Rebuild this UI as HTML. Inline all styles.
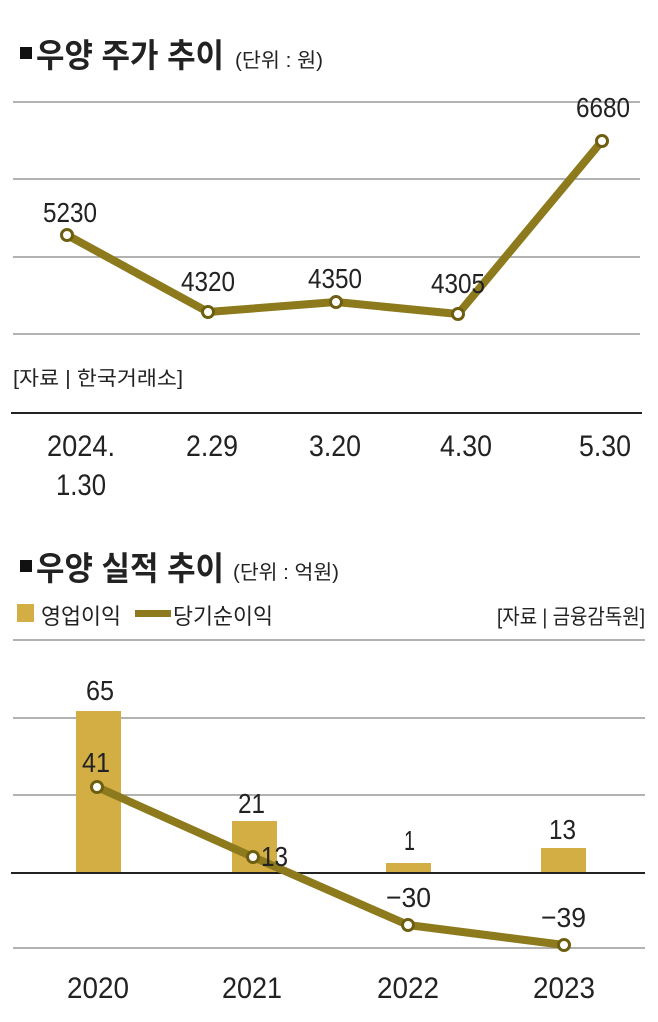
<!DOCTYPE html>
<html><head><meta charset="utf-8"><style>
body{margin:0;background:#fff}
svg text{font-family:"Liberation Sans","Noto Sans CJK KR",sans-serif;fill:#222}
</style></head><body>
<svg width="658" height="1017" viewBox="0 0 658 1017" xmlns="http://www.w3.org/2000/svg">
<rect x="20" y="47" width="12" height="12" fill="#111"/>
<text x="36" y="67" font-size="33" font-weight="bold" textLength="188" lengthAdjust="spacingAndGlyphs">우양 주가 추이</text>
<text x="235" y="67" font-size="20" textLength="88" lengthAdjust="spacingAndGlyphs">(단위 : 원)</text>
<g stroke="#999" stroke-width="1.5">
<line x1="13" y1="102" x2="640" y2="102"/><line x1="13" y1="179" x2="640" y2="179"/>
<line x1="13" y1="257" x2="640" y2="257"/><line x1="13" y1="334" x2="640" y2="334"/>
</g>
<line x1="11" y1="413" x2="642" y2="413" stroke="#222" stroke-width="2"/>
<polyline points="67,235 208,312 336,302 458,314 602,141" fill="none" stroke="#8c7a1c" stroke-width="8" stroke-linejoin="round"/>
<g fill="#fff" stroke="#6e5f10" stroke-width="3">
<circle cx="67" cy="235" r="5.5"/><circle cx="208" cy="312" r="5.5"/><circle cx="336" cy="302" r="5.5"/><circle cx="458" cy="314" r="5.5"/><circle cx="602" cy="141" r="5.5"/></g>
<g font-size="28" lengthAdjust="spacingAndGlyphs">
<text x="43" y="222" textLength="54" lengthAdjust="spacingAndGlyphs">5230</text>
<text x="181" y="291" textLength="54" lengthAdjust="spacingAndGlyphs">4320</text>
<text x="308" y="288" textLength="54" lengthAdjust="spacingAndGlyphs">4350</text>
<text x="431" y="293" textLength="54" lengthAdjust="spacingAndGlyphs">4305</text>
<text x="576" y="117" textLength="54" lengthAdjust="spacingAndGlyphs">6680</text>
<text x="47" y="456" font-size="30" textLength="68" lengthAdjust="spacingAndGlyphs">2024.</text>
<text x="56" y="495" font-size="30" textLength="50" lengthAdjust="spacingAndGlyphs">1.30</text>
<text x="186" y="456" font-size="30" textLength="52" lengthAdjust="spacingAndGlyphs">2.29</text>
<text x="309" y="456" font-size="30" textLength="52" lengthAdjust="spacingAndGlyphs">3.20</text>
<text x="440" y="456" font-size="30" textLength="52" lengthAdjust="spacingAndGlyphs">4.30</text>
<text x="579" y="456" font-size="30" textLength="52" lengthAdjust="spacingAndGlyphs">5.30</text>
</g>
<text x="13" y="385" font-size="20" textLength="170" lengthAdjust="spacingAndGlyphs">[자료 | 한국거래소]</text>

<rect x="20" y="560" width="12" height="12" fill="#111"/>
<text x="36" y="580" font-size="33" font-weight="bold" textLength="188" lengthAdjust="spacingAndGlyphs">우양 실적 추이</text>
<text x="233" y="579" font-size="20" textLength="106" lengthAdjust="spacingAndGlyphs">(단위 : 억원)</text>
<rect x="17" y="604" width="17" height="18" fill="#d2ae45"/>
<text x="41" y="624" font-size="22" textLength="80" lengthAdjust="spacingAndGlyphs">영업이익</text>
<rect x="135" y="610" width="36" height="7" fill="#8c7a1c"/>
<text x="173" y="624" font-size="22" textLength="100" lengthAdjust="spacingAndGlyphs">당기순이익</text>
<text x="497" y="624" font-size="21" textLength="148" lengthAdjust="spacingAndGlyphs">[자료 | 금융감독원]</text>
<g stroke="#999" stroke-width="1.5">
<line x1="13" y1="640" x2="645" y2="640"/><line x1="13" y1="718" x2="645" y2="718"/>
<line x1="13" y1="795" x2="645" y2="795"/><line x1="13" y1="948" x2="645" y2="948"/>
</g>
<g fill="#d2ae45">
<rect x="76" y="711" width="45" height="162"/><rect x="232" y="821" width="45" height="52"/>
<rect x="386" y="863" width="45" height="10"/><rect x="541" y="848" width="45" height="25"/>
</g>
<line x1="11" y1="873" x2="645" y2="873" stroke="#222" stroke-width="2"/>
<polyline points="97,787 253,857 408,925 564,945" fill="none" stroke="#8c7a1c" stroke-width="8" stroke-linejoin="round"/>
<g fill="#fff" stroke="#6e5f10" stroke-width="3">
<circle cx="97" cy="787" r="5.5"/><circle cx="253" cy="857" r="5.5"/><circle cx="408" cy="925" r="5.5"/><circle cx="564" cy="945" r="5.5"/></g>
<g font-size="28">
<text x="86" y="700" textLength="28" lengthAdjust="spacingAndGlyphs">65</text>
<text x="82" y="772" textLength="28" lengthAdjust="spacingAndGlyphs">41</text>
<text x="238" y="813" textLength="27" lengthAdjust="spacingAndGlyphs">21</text>
<text x="261" y="866" textLength="27" lengthAdjust="spacingAndGlyphs">13</text>
<text x="404" y="850" textLength="11" lengthAdjust="spacingAndGlyphs">1</text>
<text x="549" y="839" textLength="27" lengthAdjust="spacingAndGlyphs">13</text>
<text x="386" y="907" textLength="45" lengthAdjust="spacingAndGlyphs">−30</text>
<text x="541" y="927" textLength="45" lengthAdjust="spacingAndGlyphs">−39</text>
<text x="67" y="998" font-size="30" textLength="62" lengthAdjust="spacingAndGlyphs">2020</text>
<text x="222" y="998" font-size="30" textLength="60" lengthAdjust="spacingAndGlyphs">2021</text>
<text x="377" y="998" font-size="30" textLength="62" lengthAdjust="spacingAndGlyphs">2022</text>
<text x="533" y="998" font-size="30" textLength="62" lengthAdjust="spacingAndGlyphs">2023</text>
</g>
</svg>
</body></html>
